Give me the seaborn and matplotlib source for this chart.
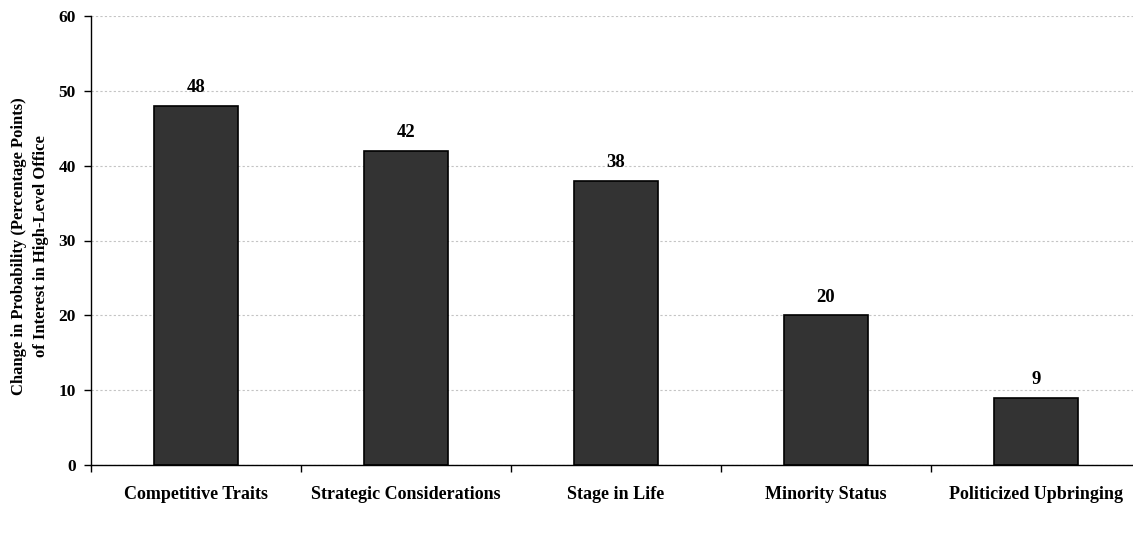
import matplotlib
matplotlib.use('Agg')
import matplotlib.pyplot as plt
import seaborn as sns
import pandas as pd
import numpy as np

categories = ['Competitive Traits', 'Strategic Considerations', 'Stage in Life',
              'Minority Status', 'Politicized Upbringing']
values = [48, 42, 38, 20, 9]
y_ticks = [0, 10, 20, 30, 40, 50, 60]

sns.set_theme(style='white')
plt.rcParams['font.family'] = ['Liberation Serif', 'DejaVu Serif']
plt.rcParams['font.weight'] = 'bold'
plt.rcParams['text.color'] = 'black'
plt.rcParams['axes.labelcolor'] = 'black'
plt.rcParams['xtick.color'] = 'black'
plt.rcParams['ytick.color'] = 'black'

df = pd.DataFrame({'factor': categories, 'change': values})

fig = plt.figure(figsize=(11.33, 5.33), dpi=100)
ax = fig.add_axes([91 / 1133, 1 - 465 / 533, 1050 / 1133, 449 / 533])

sns.barplot(data=df, x='factor', y='change', ax=ax, color='#333333',
            edgecolor='black', linewidth=1.2, width=0.4, saturation=1)

ax.set_ylim(0, 60)
ax.set_xlim(-0.5, len(categories) - 0.5)
ax.set_yticks(y_ticks)
ax.set_yticklabels([str(t) for t in y_ticks], fontsize=12.5, fontweight='bold')

# ticks between categories, labels at centers
ax.set_xticks(np.arange(len(categories) + 1) - 0.5)
ax.set_xticklabels([])
ax.set_xticks(np.arange(len(categories)), minor=True)
ax.set_xticklabels(categories, minor=True, fontsize=13, fontweight='bold')
ax.tick_params(axis='x', which='minor', length=0, pad=15)
ax.tick_params(axis='x', which='major', direction='out', length=5, width=1, color='black', bottom=True)
ax.tick_params(axis='y', direction='out', length=5, width=1, color='black', left=True, pad=6)

ax.yaxis.grid(True, linestyle=(0, (2, 2)), color='#c4c4c4', linewidth=0.8)
ax.set_axisbelow(True)

for s in ['top', 'right']:
    ax.spines[s].set_visible(False)
for s in ['left', 'bottom']:
    ax.spines[s].set_color('black')
    ax.spines[s].set_linewidth(1)

for i, v in enumerate(values):
    ax.text(i, v + 1.3, str(v), ha='center', va='bottom', fontsize=13.5, fontweight='bold')

ax.set_xlabel('')
ax.set_ylabel('Change in Probability (Percentage Points)\nof Interest in High-Level Office',
              fontsize=12, fontweight='bold', linespacing=1.5)
ax.yaxis.label.set_va('center')
ax.yaxis.set_label_coords((30 - 91) / 1050, 0.487)

fig.savefig('out.png', dpi=100)
